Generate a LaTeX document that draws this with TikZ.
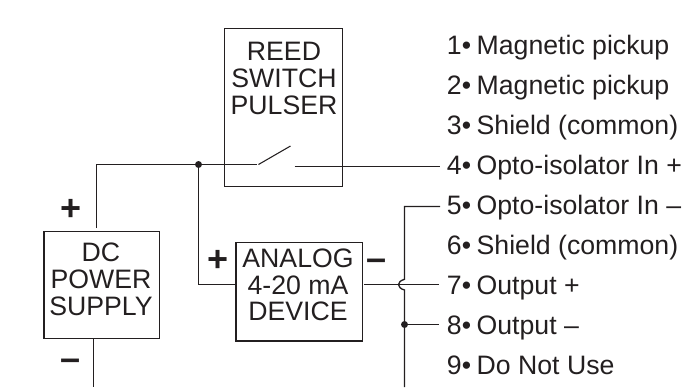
\documentclass[tikz,border=0pt]{standalone}
\usepackage{fontspec}
\setmainfont{Liberation Sans}
\definecolor{ink}{HTML}{231F20}
\newcommand{\pinsep}{\kern-1.4pt\ }
\tikzset{
  x=0.75pt,y=-0.75pt,
  wire/.style={draw=ink,line width=1pt},
  boxshape/.style={draw=ink,line width=1pt,rectangle,inner sep=0pt,anchor=north west},
  boxtext/.style={text=ink,inner sep=0pt,align=center,font=\fontsize{20}{20}\selectfont},
  pin/.style={text=ink,inner sep=0pt,anchor=base west,font=\fontsize{20}{20}\selectfont},
  sign/.style={text=ink,inner sep=0pt,font=\fontsize{27}{28}\bfseries\selectfont},
  dot/.style={circle,fill=ink,inner sep=0pt,minimum size=5.2pt},
}
\begin{document}
\begin{tikzpicture}
\useasboundingbox (0,0) rectangle (697,387);
% boxes
\node[boxshape,minimum width=88.5pt,minimum height=118.3pt] (reed) at (223.7,28) {};
\node[boxshape,minimum width=94.8pt,minimum height=74pt] (analog) at (235.3,241.7) {};
\node[boxshape,minimum width=86.8pt,minimum height=80.5pt] (dc) at (43.3,230.7) {};
\node[boxtext] (reedtext) at (284,78.3) {REED\\SWITCH\\PULSER};
\node[boxtext] (analogtext) at (298,285) {ANALOG\\4-20 mA\\DEVICE};
\node[boxtext] (dctext) at (101,279.3) {DC\\POWER\\SUPPLY};
% pin list
\node[pin] (p1) at (446.7,54) {1•\pinsep Magnetic pickup};
\node[pin] (p2) at (446.7,94) {2•\pinsep Magnetic pickup};
\node[pin] (p3) at (446.7,134) {3•\pinsep Shield (common)};
\node[pin] (p4) at (446.7,174) {4•\pinsep Opto-isolator In +};
\node[pin] (p5) at (446.7,214) {5•\pinsep Opto-isolator In –};
\node[pin] (p6) at (446.7,254) {6•\pinsep Shield (common)};
\node[pin] (p7) at (446.7,294) {7•\pinsep Output +};
\node[pin] (p8) at (446.7,334) {8•\pinsep Output –};
\node[pin] (p9) at (446.7,374) {9•\pinsep Do Not Use};
% signs
\node[sign] (dcplus) at (71,210) {+};
\node[sign] (dcminus) at (71,365) {–};
\node[sign] (anplus) at (218,261) {+};
\node[sign] (anminus) at (377,265) {–};
% coordinates
\coordinate (sw1) at (256.7,164.5);
\coordinate (swtip) at (290.5,146);
\coordinate (sw2) at (294.7,166.5);
\coordinate (e4) at (440,166.5);
\coordinate (e5) at (440,206.5);
\coordinate (e7) at (439,284.5);
\coordinate (e8) at (439,324.5);
\coordinate (dcp) at (96.5,228);
\coordinate (anr) at (364.3,284.5);
\coordinate (bus5) at (404.5,206.5);
\coordinate (hopa) at (404.5,279.3);
\coordinate (hopb) at (404.5,290);
\coordinate (busend) at (404.5,387);
\coordinate (dcmend) at (93.5,387);
\node[dot] (j1) at (198.5,164.5) {};
\node[dot] (j2) at (404.5,324.5) {};
% wires
\draw[wire] (dcp) |- (j1.center) -- (sw1);
\draw[wire,line width=0.8pt] (258.5,164.5) -- (swtip);
\draw[wire] (sw2) -- (e4);
\draw[wire] (j1.center) |- (analog.west |- anr);
\draw[wire] (anr) -- (e7);
\draw[wire] (e5) -- (bus5) -- (hopa) .. controls (400.5,280.5) and (398.5,282.5) .. (398.5,284.5) .. controls (398.5,286.5) and (400.5,289) .. (hopb) -- (busend);
\draw[wire] (j2.center) -- (e8);
\draw[wire] (dc.south -| dcmend) -- (dcmend);
\end{tikzpicture}
\end{document}
